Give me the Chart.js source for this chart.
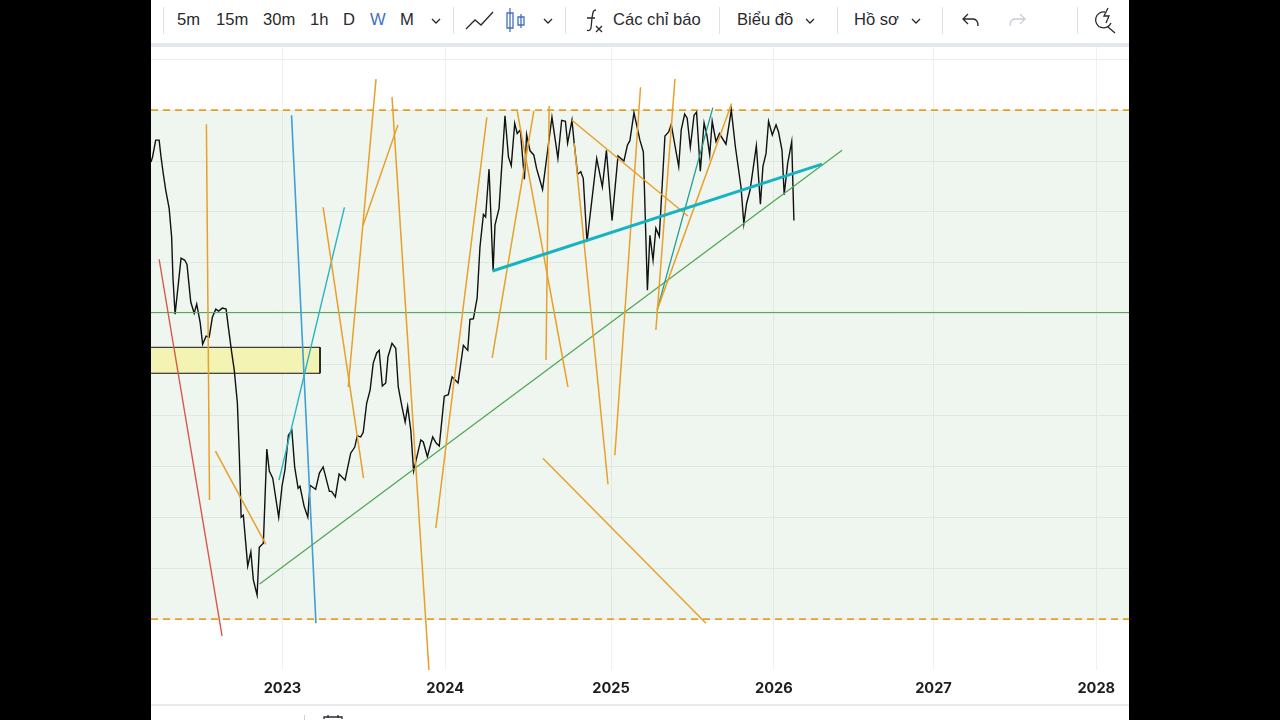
<!DOCTYPE html>
<html>
<head>
<meta charset="utf-8">
<script src="https://cdn.jsdelivr.net/npm/chart.js@4/dist/chart.umd.min.js"></script>
<style>
  html, body { margin: 0; background: #000; overflow: hidden; }
  #page { position: absolute; left: 151px; top: 0; width: 978px; height: 720px; background: #fff; overflow: hidden; }
  #band { position: absolute; left: 0; top: 43px; width: 978px; height: 4px; background: #e4e7ee; }
  #foot { position: absolute; left: 0; top: 704px; width: 978px; height: 2px; background: #e9eaf0; }
  #wrap { position: absolute; left: 0; top: 47px; width: 978px; height: 657px; }
  .t { position: absolute; top: 10px; font: 16.6px/20px "Liberation Sans", Arial, sans-serif; color: #2a2a2e; white-space: nowrap; }
  .sep { position: absolute; top: 7px; width: 1px; height: 27px; background: #dfe1e6; }
  svg.ic { position: absolute; fill: none; stroke: #2a2a2e; stroke-width: 1.3; }
</style>
</head>
<body>
<div id="page">
  <div class="sep" style="left:12px"></div>
  <span class="t" style="left:26px">5m</span>
  <span class="t" style="left:65px">15m</span>
  <span class="t" style="left:112px">30m</span>
  <span class="t" style="left:159px">1h</span>
  <span class="t" style="left:192px">D</span>
  <span class="t" style="left:219px;color:#3f6fc4">W</span>
  <span class="t" style="left:249px">M</span>
  <svg class="ic" style="left:280px;top:18px" width="10" height="6"><path d="M1 1l4 4 4-4"/></svg>
  <div class="sep" style="left:302px"></div>
  <svg class="ic" style="left:314px;top:10px" width="30" height="20"><path d="M1 19l9-9 6 5 12-13"/></svg>
  <svg class="ic" style="left:354px;top:6px;stroke:#3f6fc4" width="22" height="28"><path d="M5 2v24M2 7h6v15H2zM16 8v14M13 11h6v8h-6z"/></svg>
  <svg class="ic" style="left:392px;top:18px" width="10" height="6"><path d="M1 1l4 4 4-4"/></svg>
  <div class="sep" style="left:414px"></div>
  <svg class="ic" style="left:433px;top:8px" width="20" height="26"><path d="M12 2c-3 0-3 2-4 8l-1 10c-1 3-3 3-4 2M3 10h8M12 18l6 6M18 18l-6 6"/></svg>
  <span class="t" style="left:462px">Các chỉ báo</span>
  <div class="sep" style="left:568px"></div>
  <span class="t" style="left:586px">Biểu đồ</span>
  <svg class="ic" style="left:654px;top:18px" width="10" height="6"><path d="M1 1l4 4 4-4"/></svg>
  <div class="sep" style="left:686px"></div>
  <span class="t" style="left:703px">Hồ sơ</span>
  <svg class="ic" style="left:760px;top:18px" width="10" height="6"><path d="M1 1l4 4 4-4"/></svg>
  <div class="sep" style="left:791px"></div>
  <svg class="ic" style="left:811px;top:13px" width="18" height="15"><path d="M6 1L1 6l5 5M1 6h10c4 0 5 3 5 7"/></svg>
  <svg class="ic" style="left:857px;top:13px;stroke:#c9ccd2" width="18" height="15"><path d="M12 1l5 5-5 5M17 6H7c-4 0-5 3-5 7"/></svg>
  <div class="sep" style="left:926px"></div>
  <svg class="ic" style="left:943px;top:6px" width="24" height="28"><path d="M11 6a8 8 0 1 0 6 11M14 21l7 6M14 2l-4 8h5l-3 7"/></svg>
  <div id="band"></div>
  <div id="wrap"><canvas id="weeklyChart"></canvas></div>
  <div id="foot"></div>
  <div style="position:absolute;left:153px;top:715px;width:1px;height:5px;background:#cfd1d6"></div>
  <svg class="ic" style="left:172px;top:715px" width="20" height="5"><path d="M1 4V2h18v2M5 0v3M15 0v3"/></svg>
</div>

<script>
// x is weeks from the left edge of the view, y is percent of the dashed range
const xMin = 0;
const xMax = 312.46;
const yMin = -10;
const yMax = 112.4;

const yearWeeks = [42, 94, 147, 199, 250, 302];
const yearLabels = ["2023", "2024", "2025", "2026", "2027", "2028"];
const gridLevels = [0, 10, 20, 30, 40, 50, 60, 70, 80, 90, 100, 110];

const closeWeeks = [
  0, 0.5, 1.5, 2.6, 3.2, 3.9, 4.7, 5.8, 6.6, 7.0, 7.7, 9.6, 10.8, 11.5, 12.7, 13.8, 14.6, 15.7, 16.5, 17.6,
  18.6, 19.6, 20.7, 21.6, 22.8, 24.0, 24.7, 25.8, 26.6, 27.6, 28.2, 28.8, 29.5, 30.9, 31.9, 32.7, 33.9, 34.6, 35.9, 37.0,
  37.8, 38.9, 40.8, 41.9, 42.8, 43.9, 45.0, 45.9, 47.0, 47.6, 48.9, 50.1, 50.8, 52.6, 53.8, 55.0, 57.0, 57.7, 58.9, 60.1,
  62.0, 63.8, 65.1, 65.9, 67.0, 67.8, 68.9, 70.0, 71.0, 72.1, 72.9, 73.9, 75.0, 75.7, 77.0, 78.2, 79.0, 80.1, 81.2, 82.0,
  83.0, 83.9, 86.2, 87.0, 88.3, 90.0, 91.1, 92.1, 93.7, 95.0, 96.2, 98.1, 99.8, 101.2, 101.9, 103.0, 104.2, 105.1, 106.2, 106.9,
  108.0, 109.3, 109.9, 111.2, 113.1, 114.2, 115.1, 116.2, 117.0, 118.0, 119.3, 120.0, 121.1, 122.3, 123.2, 125.1, 128.1, 130.0, 131.2, 132.4,
  133.1, 134.5, 135.2, 136.3, 137.3, 138.1, 139.3, 142.4, 144.2, 145.5, 147.3, 149.2, 151.1, 152.2, 153.0, 154.3, 156.2, 157.3, 158.6, 159.4,
  160.4, 161.3, 162.4, 164.2, 165.4, 166.2, 168.6, 169.4, 170.5, 171.3, 172.3, 173.5, 174.3, 175.5, 176.7, 177.6, 178.5, 179.3, 180.5, 181.6,
  183.7, 185.4, 186.7, 188.5, 189.4, 190.3, 191.4, 193.4, 194.7, 195.5, 196.5, 197.3, 198.5, 199.7, 200.5, 201.6, 202.3, 203.4, 204.7, 205.4
];
const closeLevels = [
  89.8, 90.8, 94.1, 94.1, 90.8, 87.6, 84.3, 80.7, 75.0, 67.2, 59.9, 70.9, 70.5, 69.7, 62.3, 60.1, 61.9, 58.3, 54.0, 55.6,
  55.4, 59.3, 60.9, 60.5, 61.1, 60.9, 57.4, 52.3, 48.9, 42.4, 32.6, 20.0, 20.4, 10.4, 13.2, 7.7, 4.7, 14.1, 14.9, 33.4,
  29.1, 27.7, 20.0, 26.3, 29.3, 36.1, 37.1, 29.9, 25.7, 26.1, 22.2, 20.0, 26.3, 25.5, 28.7, 29.9, 25.1, 25.1, 24.0, 28.5,
  27.3, 32.6, 33.8, 36.0, 35.8, 36.7, 42.4, 45.0, 50.3, 52.3, 52.8, 45.8, 46.4, 51.5, 54.2, 53.2, 45.6, 42.0, 38.7, 41.8,
  37.1, 29.1, 35.2, 34.8, 31.9, 35.8, 34.6, 34.0, 43.8, 44.1, 47.6, 46.4, 53.8, 52.8, 58.9, 59.0, 63.1, 73.1, 79.5, 79.0,
  88.4, 68.4, 77.4, 80.7, 98.9, 90.8, 89.1, 97.4, 95.4, 96.1, 86.4, 95.2, 92.0, 91.2, 88.5, 84.4, 98.6, 90.5, 98.0, 97.8,
  93.5, 98.0, 93.5, 87.4, 87.9, 86.6, 74.1, 90.5, 84.9, 92.1, 78.3, 91.0, 90.0, 93.1, 94.0, 99.5, 94.1, 91.8, 64.6, 75.4,
  70.5, 76.8, 75.2, 94.9, 95.7, 97.2, 88.9, 96.1, 99.2, 98.4, 92.7, 99.0, 99.6, 88.0, 97.5, 95.1, 91.2, 97.8, 93.8, 95.4,
  93.3, 100.0, 92.8, 84.9, 77.7, 81.7, 84.3, 93.0, 81.5, 88.9, 91.5, 97.8, 95.1, 97.1, 95.7, 92.1, 83.4, 89.5, 93.8, 78.3
];

// drawn trend lines, each one [week, level, week, level]
const orangeLines = [
  [17.7, 97.2, 18.7, 23.4],
  [20.6, 33.0, 36.7, 14.7],
  [55.0, 80.9, 67.9, 27.7],
  [71.9, 106.1, 63.0, 45.6],
  [78.9, 97.1, 67.8, 77.5],
  [77.0, 102.6, 88.8, -10.0],
  [107.3, 98.6, 91.0, 17.9],
  [122.3, 99.8, 109.0, 51.3],
  [117.0, 99.8, 133.2, 45.6],
  [127.2, 100.8, 126.2, 50.9],
  [134.5, 98.0, 171.5, 79.2],
  [135.2, 93.5, 146.0, 26.5],
  [156.4, 104.5, 148.2, 32.2],
  [167.4, 106.1, 161.3, 56.8],
  [185.5, 101.3, 161.7, 60.7],
  [125.2, 31.6, 177.3, -0.8]
];
const redLine = [2.6, 70.7, 22.7, -3.3];
const blueLine = [44.9, 99.0, 52.7, -0.8];
const tealLine = [61.8, 80.9, 40.9, 27.3];
const darkTealLine = [179.5, 100.5, 161.7, 60.7];
const thickCyanLine = [109.1, 68.4, 214.4, 89.4];
const greenTrend = [34.7, 6.9, 220.8, 92.1];
const greenLevel = 60.24;
const zoneTop = 100;
const zoneBottom = 0;
const boxWeeks = [-1, 54];
const boxLevels = [48.3, 53.4];

function segment(line, color, width, order) {
  return {
    data: [{ x: line[0], y: line[1] }, { x: line[2], y: line[3] }],
    borderColor: color,
    borderWidth: width,
    order: order
  };
}

const datasets = [];

// green zone and its dashed edges
datasets.push({
  data: [{ x: xMin, y: zoneTop }, { x: xMax, y: zoneTop }],
  borderColor: "#e99f26",
  borderWidth: 1.6,
  borderDash: [7, 5],
  backgroundColor: "rgba(80,160,80,0.09)",
  fill: { value: zoneBottom },
  order: 10
});
datasets.push({
  data: [{ x: xMin, y: zoneBottom }, { x: xMax, y: zoneBottom }],
  borderColor: "#e99f26",
  borderWidth: 1.6,
  borderDash: [7, 5],
  order: 9
});

// yellow box
datasets.push({
  data: [
    { x: boxWeeks[0], y: boxLevels[1] },
    { x: boxWeeks[1], y: boxLevels[1] },
    { x: boxWeeks[1], y: boxLevels[0] },
    { x: boxWeeks[0], y: boxLevels[0] },
    { x: boxWeeks[0], y: boxLevels[1] }
  ],
  borderColor: "#111",
  borderWidth: 1,
  backgroundColor: "#f3f3b4",
  fill: "shape",
  order: 8
});

datasets.push({
  data: closeWeeks.map((w, i) => ({ x: w, y: closeLevels[i] })),
  borderColor: "#111",
  borderWidth: 1.4,
  order: 5
});

orangeLines.forEach(line => datasets.push(segment(line, "#e8a02a", 1.5, 3)));
datasets.push(segment(redLine, "#d9584a", 1.4, 3));
datasets.push(segment(blueLine, "#3f9fd6", 1.6, 3));
datasets.push(segment(tealLine, "#27b4c0", 1.4, 3));
datasets.push(segment(darkTealLine, "#1f9d8f", 1.3, 3));
datasets.push(segment(greenTrend, "#52a855", 1.3, 3));
datasets.push(segment([xMin, greenLevel, xMax, greenLevel], "#52a855", 1, 3));
datasets.push(segment(thickCyanLine, "#17b3c2", 3, 2));

document.addEventListener("DOMContentLoaded", () => {
  const ctx = document.getElementById("weeklyChart").getContext("2d");
  new Chart(ctx, {
    type: "scatter",
    data: { datasets: datasets },
    options: {
      responsive: true,
      maintainAspectRatio: false,
      animation: false,
      layout: { padding: 0 },
      elements: {
        point: { radius: 0, hitRadius: 0 },
        line: { tension: 0, fill: false }
      },
      datasets: { scatter: { showLine: true } },
      plugins: { legend: { display: false }, tooltip: { enabled: false } },
      scales: {
        x: {
          type: "linear",
          min: xMin,
          max: xMax,
          afterBuildTicks: scale => { scale.ticks = yearWeeks.map(v => ({ value: v })); },
          afterFit: scale => { scale.height = 34; },
          grid: { color: "#eef1ee", lineWidth: 1, drawTicks: false },
          border: { display: false },
          ticks: {
            autoSkip: false,
            maxRotation: 0,
            padding: 10,
            color: "#1d1d1f",
            font: { family: "Inter", size: 14.6, weight: "700" },
            callback: value => yearLabels[yearWeeks.indexOf(value)]
          }
        },
        y: {
          type: "linear",
          min: yMin,
          max: yMax,
          afterBuildTicks: scale => { scale.ticks = gridLevels.map(v => ({ value: v })); },
          afterFit: scale => { scale.width = 0; },
          grid: { color: "#edf0ed", lineWidth: 1, drawTicks: false },
          border: { display: false },
          ticks: { display: false }
        }
      }
    }
  });
});
</script>
</body>
</html>
